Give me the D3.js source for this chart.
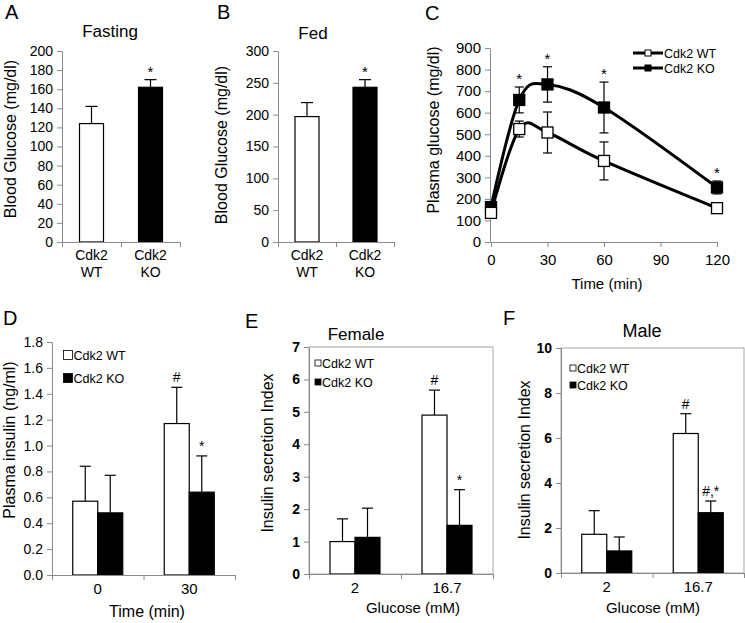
<!DOCTYPE html>
<html lang="en">
<head>
<meta charset="UTF-8">
<title>Cdk2 WT vs KO glucose and insulin</title>
<script src="https://d3js.org/d3.v7.min.js"></script>
<style>
  body { margin: 0; background: #fff; }
  svg text { font-family: "Liberation Sans", Arial, sans-serif; fill: #000; }
</style>
</head>
<body>
<div id="chart"></div>
<script>
// A, B: blood glucose
const genotypes = ["Cdk2 WT", "Cdk2 KO"];
const fastingMean = [124, 162];
const fastingErr = [18, 8];
const fastingMarks = ["", "*"];
const fastingTicks = [0, 20, 40, 60, 80, 100, 120, 140, 160, 180, 200];
const fedMean = [197, 243];
const fedErr = [22, 12];
const fedMarks = ["", "*"];
const fedTicks = [0, 50, 100, 150, 200, 250, 300];

// C: glucose tolerance
const gttTimes = [0, 15, 30, 60, 120];
const gttWT = [135, 524, 508, 376, 157];
const gttWTErr = [15, 37, 95, 88, 15];
const gttKO = [162, 659, 731, 624, 253];
const gttKOErr = [22, 60, 82, 118, 30];
const gttMarks = ["", "*", "*", "*", "*"];
const gttTimeTicks = [0, 30, 60, 90, 120];
const gttGlucoseTicks = [0, 100, 200, 300, 400, 500, 600, 700, 800, 900];

// D: plasma insulin
const insulinTimes = ["0", "30"];
const insulinWT = [0.57, 1.17];
const insulinWTErr = [0.27, 0.28];
const insulinKO = [0.48, 0.64];
const insulinKOErr = [0.29, 0.28];
const insulinWTMarks = ["", "#"];
const insulinKOMarks = ["", "*"];
const insulinTicks = [0, 0.2, 0.4, 0.6, 0.8, 1.0, 1.2, 1.4, 1.6, 1.8];

// E, F: insulin secretion index
const glucoseConc = ["2", "16.7"];
const femaleWT = [1.0, 4.9];
const femaleWTErr = [0.7, 0.77];
const femaleKO = [1.13, 1.5];
const femaleKOErr = [0.9, 1.1];
const femaleWTMarks = ["", "#"];
const femaleKOMarks = ["", "*"];
const femaleTicks = [0, 1, 2, 3, 4, 5, 6, 7];
const maleWT = [1.72, 6.2];
const maleWTErr = [1.05, 0.88];
const maleKO = [0.98, 2.68];
const maleKOErr = [0.62, 0.52];
const maleWTMarks = ["", "#"];
const maleKOMarks = ["", "#,*"];
const maleTicks = [0, 2, 4, 6, 8, 10];

const svg = d3.select("#chart").append("svg")
  .attr("width", 745)
  .attr("height", 623);

const axisGray = "#8a8a8a";

function styleAxis(g, size, bold) {
  g.select(".domain").attr("stroke", axisGray);
  g.selectAll(".tick line").attr("stroke", axisGray);
  g.selectAll(".tick text")
    .attr("font-size", size)
    .attr("font-weight", bold ? "bold" : "normal");
}

function leftAxis(y, x0, ticks, fmt, size, bold) {
  svg.append("g")
    .attr("transform", `translate(${x0},0)`)
    .call(d3.axisLeft(y).tickValues(ticks).tickFormat(fmt).tickSize(5).tickSizeOuter(0).tickPadding(4))
    .call(g => styleAxis(g, size, bold));
}

// category axis: ticks at the category edges, labels in the middle
function categoryAxis(x, y0, size, pad) {
  const n = x.domain().length;
  const edges = d3.scaleLinear().domain([0, n]).range(x.range());
  svg.append("g")
    .attr("transform", `translate(0,${y0})`)
    .call(d3.axisBottom(edges).tickValues(d3.range(n + 1)).tickFormat("").tickSize(5).tickSizeOuter(0))
    .call(g => styleAxis(g, size, false));
  return svg.append("g")
    .attr("transform", `translate(0,${y0})`)
    .call(d3.axisBottom(x).tickSize(0).tickPadding(pad))
    .call(g => g.select(".domain").remove())
    .call(g => g.selectAll(".tick text").attr("font-size", size));
}

function text(x, y, s, size, anchor, rotate) {
  const t = svg.append("text")
    .attr("font-size", size)
    .attr("text-anchor", anchor || "start")
    .text(s);
  if (rotate) t.attr("transform", `translate(${x},${y}) rotate(-90)`);
  else t.attr("x", x).attr("y", y);
  return t;
}

function errorBar(g, cx, yBase, yTop, cap) {
  g.append("line").attr("x1", cx).attr("x2", cx).attr("y1", yBase).attr("y2", yTop)
    .attr("stroke", "#000").attr("stroke-width", 1.2);
  g.append("line").attr("x1", cx - cap / 2).attr("x2", cx + cap / 2).attr("y1", yTop).attr("y2", yTop)
    .attr("stroke", "#000").attr("stroke-width", 1.2);
}

// ---------- A and B ----------
function genotypePanel(mean, err, marks, ticks, maxY, x0, x1, yTop, yBot) {
  const x = d3.scaleBand().domain(genotypes).range([x0, x1]);
  const y = d3.scaleLinear().domain([0, maxY]).range([yBot, yTop]);
  const barW = 24;
  const g = svg.append("g");
  genotypes.forEach((d, i) => {
    const cx = x(d) + x.bandwidth() / 2;
    errorBar(g, cx, y(mean[i]), y(mean[i] + err[i]), 12);
    g.append("rect")
      .attr("x", cx - barW / 2)
      .attr("y", y(mean[i]))
      .attr("width", barW)
      .attr("height", y(0) - y(mean[i]))
      .attr("fill", i === 0 ? "#fff" : "#000")
      .attr("stroke", "#000")
      .attr("stroke-width", 1.2);
    if (marks[i]) text(cx, y(mean[i] + err[i]) - 3, marks[i], 15, "middle");
  });
  leftAxis(y, x0, ticks, d3.format("d"), 14, false);
  const lab = categoryAxis(x, yBot, 14, 8);
  lab.selectAll(".tick text").each(function(d) {
    const parts = d.split(" ");
    const t = d3.select(this).text(null);
    t.append("tspan").attr("x", 0).text(parts[0]);
    t.append("tspan").attr("x", 0).attr("dy", "1.25em").text(parts[1]);
  });
}

genotypePanel(fastingMean, fastingErr, fastingMarks, fastingTicks, 200, 62, 180, 51, 242);
text(5, 19, "A", 20);
text(110, 37, "Fasting", 17, "middle");
text(16, 139, "Blood Glucose (mg/dl)", 16, "middle", true);

genotypePanel(fedMean, fedErr, fedMarks, fedTicks, 300, 278, 394, 51, 242);
text(217, 19, "B", 20);
text(313, 39, "Fed", 17, "middle");
text(227, 145, "Blood Glucose (mg/dl)", 16, "middle", true);

// ---------- C ----------
{
  const x = d3.scaleLinear().domain([0, 120]).range([491, 717]);
  const y = d3.scaleLinear().domain([0, 900]).range([242, 48]);
  svg.append("g")
    .attr("transform", "translate(0,242)")
    .call(d3.axisBottom(x).tickValues(gttTimeTicks).tickSize(5).tickSizeOuter(0).tickPadding(7))
    .call(g => styleAxis(g, 15, false));
  leftAxis(y, 490, gttGlucoseTicks, d3.format("d"), 15, false);

  const line = d3.line()
    .x((d, i) => x(gttTimes[i]))
    .y(d => y(d))
    .curve(d3.curveCardinal);

  const series = [
    { values: gttKO, err: gttKOErr, fill: "#000" },
    { values: gttWT, err: gttWTErr, fill: "#fff" }
  ];
  series.forEach(s => {
    const g = svg.append("g");
    s.values.forEach((v, i) => {
      const cx = x(gttTimes[i]);
      errorBar(g, cx, y(v), y(v + s.err[i]), 9);
      errorBar(g, cx, y(v), y(v - s.err[i]), 9);
    });
    g.append("path").attr("d", line(s.values))
      .attr("fill", "none").attr("stroke", "#000").attr("stroke-width", 3);
    g.selectAll("rect").data(s.values).join("rect")
      .attr("x", (d, i) => x(gttTimes[i]) - 5.5)
      .attr("y", d => y(d) - 5.5)
      .attr("width", 11).attr("height", 11)
      .attr("fill", s.fill).attr("stroke", "#000").attr("stroke-width", 1.3);
  });
  gttMarks.forEach((m, i) => {
    if (m) text(x(gttTimes[i]), y(gttKO[i] + gttKOErr[i]) - 3, m, 15, "middle");
  });

  // legend
  [["Cdk2 WT", "#fff", 53], ["Cdk2 KO", "#000", 68]].forEach(([name, fill, ly]) => {
    svg.append("line").attr("x1", 633).attr("x2", 663).attr("y1", ly).attr("y2", ly)
      .attr("stroke", "#000").attr("stroke-width", 3);
    svg.append("rect").attr("x", 645).attr("y", ly - 3).attr("width", 6).attr("height", 6)
      .attr("fill", fill).attr("stroke", "#000").attr("stroke-width", 1);
    text(664, ly + 4.5, name, 12.5);
  });

  text(425, 20, "C", 20);
  text(439, 130, "Plasma  glucose (mg/dl)", 16, "middle", true);
  text(607, 289, "Time (min)", 15, "middle");
}

// ---------- D, E, F ----------
function groupedPanel(cats, series, ticks, maxY, fmt, bold, x0, x1, yTop, yBot, frame) {
  const x = d3.scaleBand().domain(cats).range([x0, x1]);
  const y = d3.scaleLinear().domain([0, maxY]).range([yBot, yTop]);
  const barW = 25;
  const inner = d3.scaleBand().domain(series.map(s => s.name)).range([0, barW * 2]);
  if (frame) {
    svg.append("rect").attr("x", x0).attr("y", yTop).attr("width", x1 - x0).attr("height", yBot - yTop)
      .attr("fill", "none").attr("stroke", "#a6a6a6").attr("stroke-width", 1);
  }
  const g = svg.append("g");
  cats.forEach((c, i) => {
    const left = x(c) + (x.bandwidth() - barW * 2) / 2;
    series.forEach(s => {
      const bx = left + inner(s.name);
      const v = s.values[i];
      errorBar(g, bx + barW / 2, y(v), y(v + s.err[i]), 11);
      g.append("rect")
        .attr("x", bx).attr("y", y(v))
        .attr("width", barW).attr("height", y(0) - y(v))
        .attr("fill", s.fill).attr("stroke", "#000").attr("stroke-width", 1.2);
      if (s.marks[i]) text(bx + barW / 2, y(v + s.err[i]) - 5, s.marks[i], 14, "middle");
    });
  });
  leftAxis(y, x0, ticks, fmt, 14, bold);
  categoryAxis(x, yBot, 15, 8);
}

function barLegend(series, sx, ys, size) {
  series.forEach((s, i) => {
    svg.append("rect").attr("x", sx - size / 2).attr("y", ys[i] - size / 2)
      .attr("width", size).attr("height", size)
      .attr("fill", s.fill).attr("stroke", "#000").attr("stroke-width", 0.8);
    text(sx + size / 2 + 1, ys[i] + 4.5, s.name, 12.5);
  });
}

const insulinSeries = [
  { name: "Cdk2 WT", values: insulinWT, err: insulinWTErr, marks: insulinWTMarks, fill: "#fff" },
  { name: "Cdk2 KO", values: insulinKO, err: insulinKOErr, marks: insulinKOMarks, fill: "#000" }
];
groupedPanel(insulinTimes, insulinSeries, insulinTicks, 1.8, d3.format(".1f"), false, 52, 235, 342, 575, false);
barLegend(insulinSeries, 68, [355, 378], 9);
text(3, 325, "D", 20);
text(15, 440, "Plasma insulin (ng/ml)", 16, "middle", true);
text(147, 617, "Time (min)", 16, "middle");

const femaleSeries = [
  { name: "Cdk2 WT", values: femaleWT, err: femaleWTErr, marks: femaleWTMarks, fill: "#fff" },
  { name: "Cdk2 KO", values: femaleKO, err: femaleKOErr, marks: femaleKOMarks, fill: "#000" }
];
groupedPanel(glucoseConc, femaleSeries, femaleTicks, 7, d3.format("d"), true, 309, 493, 347, 574, true);
barLegend(femaleSeries, 318, [363, 382], 6);
text(245, 328, "E", 20);
text(356, 340, "Female", 17, "middle");
text(273, 453, "Insulin secretion Index", 16, "middle", true);
text(413, 613, "Glucose (mM)", 15, "middle");

const maleSeries = [
  { name: "Cdk2 WT", values: maleWT, err: maleWTErr, marks: maleWTMarks, fill: "#fff" },
  { name: "Cdk2 KO", values: maleKO, err: maleKOErr, marks: maleKOMarks, fill: "#000" }
];
groupedPanel(glucoseConc, maleSeries, maleTicks, 10, d3.format("d"), true, 561, 744, 348, 573, true);
barLegend(maleSeries, 573, [368, 385], 6);
text(503, 325, "F", 20);
text(642, 337, "Male", 18, "middle");
text(530, 460, "Insulin secretion Index", 16, "middle", true);
text(653, 613, "Glucose (mM)", 15, "middle");
</script>
</body>
</html>
